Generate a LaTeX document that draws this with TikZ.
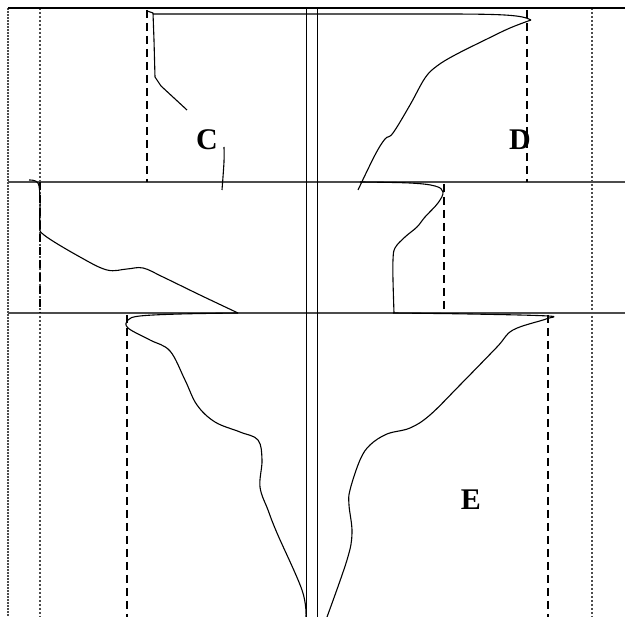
\documentclass[tikz,border=0pt]{standalone}
\usepackage{fontspec}
\setmainfont{Liberation Serif}
\begin{document}
\begin{tikzpicture}[x=1pt,y=-1pt,
  sep/.style={draw=black!70,line width=1.8pt},
  axis/.style={draw=black,line width=1pt},
  prof/.style={draw=black,line width=1.1pt,line join=round},
  lim/.style={draw=black,line width=2.5pt,dash pattern=on 8pt off 5pt},
  dotl/.style={draw=black!70,line width=1.8pt,dash pattern=on 1.6pt off 2.4pt},
  edge/.style={draw=black!70,line width=1.1pt,dash pattern=on 2pt off 1pt},
  lab/.style={font=\bfseries\fontsize{30}{30}\selectfont,inner sep=0pt}]
\useasboundingbox (0,0) rectangle (625,617);
\fill[white] (0,0) rectangle (625,617);
% frame and grid
\draw[edge] (8,8) -- (8,617);
\draw[dotl] (40,8) -- (40,617);
\draw[dotl] (592,8) -- (592,617);
\draw[sep,draw=black] (8,8) -- (625,8);
\draw[sep] (8,182) -- (625,182);
\draw[sep] (8,313) -- (625,313);
\draw[axis] (306,8) -- (306,617);
\draw[axis] (317,8) -- (317,617);
% limit lines
\draw[lim] (147,10) -- (147,182);
\draw[lim] (527,10) -- (527,182);
\draw[lim] (40,182) -- (40,313);
\draw[lim] (444,184) -- (444,313);
\draw[lim] (127,315) -- (127,617);
\draw[lim] (548,315) -- (548,617);
% section C/D
\draw[prof] (147,11) -- (153,13) -- (154,40) -- (155,77) -- (161,86) -- (187,110);
\draw[prof] (153,14) -- (440,14) .. controls (505,14) and (522,15) .. (531,20);
\draw[prof] plot[smooth,tension=0.6] coordinates {(531,20) (510,28) (487,39) (455,55) (437,66) (425,78) (410,105) (393,133) (385,139) (375,155) (358,190)};
\draw[prof] plot[smooth] coordinates {(224,147) (224,162) (222,190)};
% middle section
\draw[prof] plot[smooth,tension=0.6] coordinates {(29,180) (38,183) (40,200) (40,225) (44,235) (80,257) (107,270) (127,269) (143,268) (163,277) (200,295) (238,313)};
\draw[prof] plot[smooth,tension=0.6] coordinates {(360,182) (410,183) (435,186) (443,192) (438,203) (425,217) (417,227) (405,237) (395,248) (393,260) (393,280) (394,313)};
% lower section
\draw[prof] plot[smooth,tension=0.6] coordinates {(238,313) (180,314) (140,316) (128,320) (128,328) (150,340) (170,351) (185,380) (197,405) (215,422) (240,432) (258,440) (262,460) (260,487) (268,510) (277,533) (302,590) (306,617)};
\draw[prof] plot[smooth,tension=0.6] coordinates {(393,313) (470,314) (548,316) (546,319) (513,330) (497,347) (460,385) (430,415) (410,428) (387,434) (370,445) (360,460) (350,490) (349,505) (352,533) (347,560) (327,617)};
% labels
\node[lab] (C) at (207,140) {C};
\node[lab] (D) at (520,140) {D};
\node[lab] (E) at (471,500) {E};
\end{tikzpicture}
\end{document}
